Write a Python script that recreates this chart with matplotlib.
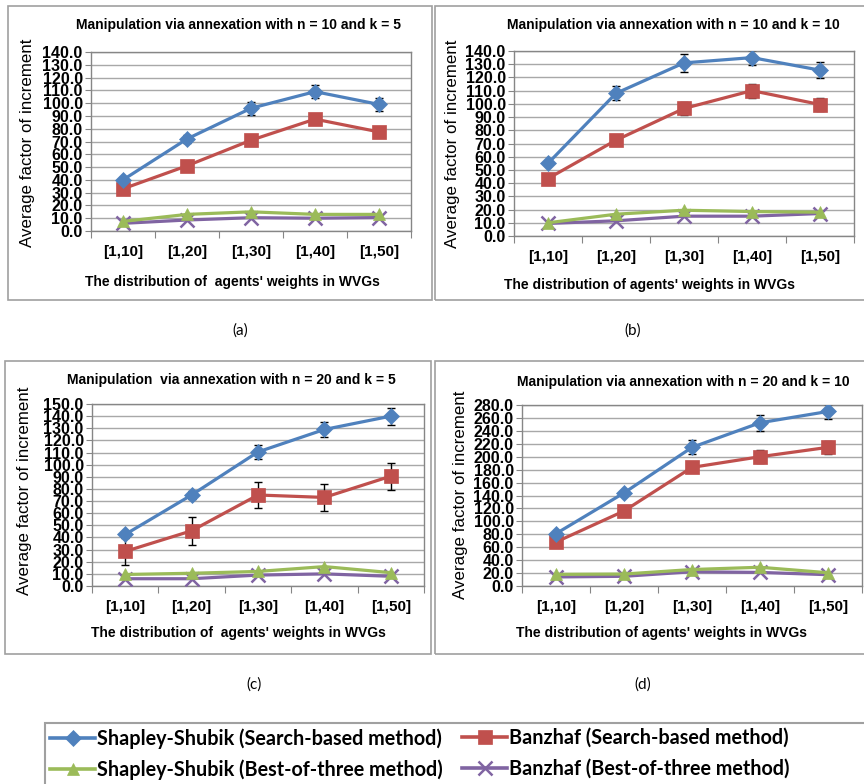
import matplotlib
matplotlib.use("Agg")
import matplotlib.pyplot as plt
from matplotlib.patches import Rectangle
from matplotlib.lines import Line2D
import numpy as np

plt.rcParams['font.family'] = ['Liberation Sans', 'DejaVu Sans']

categories = ["[1,10]", "[1,20]", "[1,30]", "[1,40]", "[1,50]"]
series_names = ["Shapley-Shubik (Search-based method)", "Banzhaf (Search-based method)",
                "Shapley-Shubik (Best-of-three method)", "Banzhaf (Best-of-three method)"]

titles = ["Manipulation via annexation with n = 10 and k = 5",
          "Manipulation via annexation with n = 10 and k = 10",
          "Manipulation  via annexation with n = 20 and k = 5",
          "Manipulation via annexation with n = 20 and k = 10"]
xlabels = ["The distribution of  agents' weights in WVGs",
           "The distribution of agents' weights in WVGs",
           "The distribution of  agents' weights in WVGs",
           "The distribution of agents' weights in WVGs"]
panel_tags = ["(a)", "(b)", "(c)", "(d)"]

# panel (a): n=10, k=5
a_ss_search = [40, 72, 96, 109, 99]
a_bz_search = [33, 51, 71, 87.5, 77.5]
a_ss_best = [7.5, 13, 15, 13, 13]
a_bz_best = [6, 8.6, 10.4, 10, 10.5]
a_ss_err = [2, 3, 5, 5, 5]
a_bz_err = [0, 0, 0, 0, 0]

# panel (b): n=10, k=10
b_ss_search = [55, 108, 131, 135, 125.5]
b_bz_search = [43.5, 72.5, 96.5, 110, 99.5]
b_ss_best = [10, 16.5, 19.5, 18.5, 18]
b_bz_best = [9.5, 11.5, 15, 15, 17]
b_ss_err = [1, 5.4, 6.7, 5.8, 6.3]
b_bz_err = [1, 1, 4.8, 5.4, 5]

# panel (c): n=20, k=5
c_ss_search = [42.5, 75, 110.5, 129, 140]
c_bz_search = [28.5, 45.5, 75, 73, 90.5]
c_ss_best = [9.5, 10.5, 12, 16, 11]
c_bz_best = [6, 6, 9, 10, 8]
c_ss_err = [1, 3.5, 5.5, 6.3, 6.9]
c_bz_err = [10.8, 11.3, 11, 11.3, 11]

# panel (d): n=20, k=10
d_ss_search = [81, 144, 214.5, 252.5, 270]
d_bz_search = [68, 116, 183.5, 200, 214.5]
d_ss_best = [18, 18.5, 25.5, 29, 20.5]
d_bz_best = [14, 15, 22, 21, 17.5]
d_ss_err = [2, 3, 10.6, 12.4, 12]
d_bz_err = [2, 3, 5, 10, 10]

y_max = [140, 140, 150, 280]
y_step = [10, 10, 10, 20]

panels = [
    (a_ss_search, a_bz_search, a_ss_best, a_bz_best, a_ss_err, a_bz_err),
    (b_ss_search, b_bz_search, b_ss_best, b_bz_best, b_ss_err, b_bz_err),
    (c_ss_search, c_bz_search, c_ss_best, c_bz_best, c_ss_err, c_bz_err),
    (d_ss_search, d_bz_search, d_ss_best, d_bz_best, d_ss_err, d_bz_err),
]

colors = ["#4F81BD", "#C0504D", "#9BBB59", "#8064A2"]
markers = ["D", "s", "^", "x"]
msizes = [8, 10, 9, 10]

W, H = 864, 784
fig = plt.figure(figsize=(W / 100, H / 100), dpi=100)

def fx(x):
    return x / W

def fy(y):
    return 1 - y / H

ax_px = [(91, 52, 411, 231), (514, 51, 854, 236), (92, 404, 424, 586), (522, 405, 862, 586)]
box_px = [(8, 6, 432, 300), (435, 6, 870, 300), (5, 361, 431, 654), (435, 361, 870, 654)]
title_pos = [(239, 25), (673, 25), (231, 380), (683, 382)]
ylab_pos = [(28, 143), (452, 144), (25, 491), (460, 495)]
xlab_pos = [(232, 282), (649, 285), (238, 633), (661, 633)]
tag_pos = [(240, 331), (633, 331), (254, 685), (643, 685)]

grid_c = "#A8A8A8"
spine_c = "#868686"

for i, (ss, bz, ssb, bzb, sse, bze) in enumerate(panels):
    l, t, r, b = box_px[i]
    fig.patches.append(Rectangle((fx(l), fy(b)), fx(r - l), (b - t) / H,
                                 transform=fig.transFigure, fill=False,
                                 edgecolor="#A0A0A0", linewidth=1.2, zorder=0))
    l, t, r, b = ax_px[i]
    ax = fig.add_axes([fx(l), fy(b), fx(r - l), (b - t) / H])
    x = np.arange(len(categories)) + 0.5
    data = [ss, bz, ssb, bzb]
    errs = [sse, bze, None, None]
    for j in range(4):
        if errs[j] is not None:
            ax.errorbar(x, data[j], yerr=errs[j], fmt='none', ecolor='black',
                        elinewidth=1.0, capsize=3, capthick=1.0, zorder=3)
        ax.plot(x, data[j], color=colors[j], lw=2.3, marker=markers[j],
                ms=msizes[j], mew=1.8 if markers[j] == 'x' else 0.5,
                mec=colors[j], zorder=4 - j * 0.1)
    ax.set_xlim(0, 5)
    ax.set_ylim(0, y_max[i])
    yt = np.arange(0, y_max[i] + 0.1, y_step[i])
    ax.set_yticks(yt)
    ax.set_yticklabels([f"{v:.1f}" for v in yt], fontsize=11.5, fontweight='bold')
    ax.set_xticks(np.arange(0, 6))
    ax.set_xticklabels([])
    ax.set_xticks(x, minor=True)
    ax.set_xticklabels(categories, minor=True, fontsize=11, fontweight='bold')
    ax.tick_params(axis='x', which='minor', length=0, pad=10)
    ax.tick_params(axis='x', which='major', length=5, color=spine_c, direction='out')
    ax.tick_params(axis='y', length=4, color=spine_c, pad=2)
    ax.yaxis.grid(True, color=grid_c, lw=1.0)
    ax.set_axisbelow(True)
    for s in ax.spines.values():
        s.set_color(spine_c)
        s.set_linewidth(1.0)
    fig.text(fx(title_pos[i][0]), fy(title_pos[i][1]), titles[i], ha='center', va='center',
             fontsize=10, fontweight='bold')
    fig.text(fx(ylab_pos[i][0]), fy(ylab_pos[i][1]), "Average factor of increment",
             ha='center', va='center', rotation=90, fontsize=12.2)
    fig.text(fx(xlab_pos[i][0]), fy(xlab_pos[i][1]), xlabels[i], ha='center', va='center',
             fontsize=10, fontweight='bold')
    fig.text(fx(tag_pos[i][0]), fy(tag_pos[i][1]), panel_tags[i], ha='center', va='center',
             fontsize=11, family=['Lato', 'DejaVu Sans'])

# legend frame (runs off the right edge like the reference)
fig.patches.append(Rectangle((fx(45), fy(790)), fx(840), (790 - 723) / H,
                             transform=fig.transFigure, fill=False,
                             edgecolor="#A0A0A0", linewidth=1.5, zorder=0))

handles = [Line2D([0], [0], color=colors[j], lw=2.6, marker=markers[j], ms=msizes[j],
                  mew=1.8 if markers[j] == 'x' else 0.5, mec=colors[j]) for j in range(4)]
leg_prop = {'family': ['Lato', 'DejaVu Sans'], 'weight': 'bold', 'size': 14.2}
leg1 = fig.legend([handles[0], handles[2]], [series_names[0], series_names[2]],
                  loc='upper left', bbox_to_anchor=(fx(50), fy(728)), prop=leg_prop,
                  frameon=False, handlelength=2.3, handletextpad=0.1, borderpad=0,
                  labelspacing=0.55, borderaxespad=0)
leg2 = fig.legend([handles[1], handles[3]], [series_names[1], series_names[3]],
                  loc='upper left', bbox_to_anchor=(fx(462), fy(728)), prop=leg_prop,
                  frameon=False, handlelength=2.3, handletextpad=0.1, borderpad=0,
                  labelspacing=0.55, borderaxespad=0)

fig.savefig("out.png", dpi=100)
